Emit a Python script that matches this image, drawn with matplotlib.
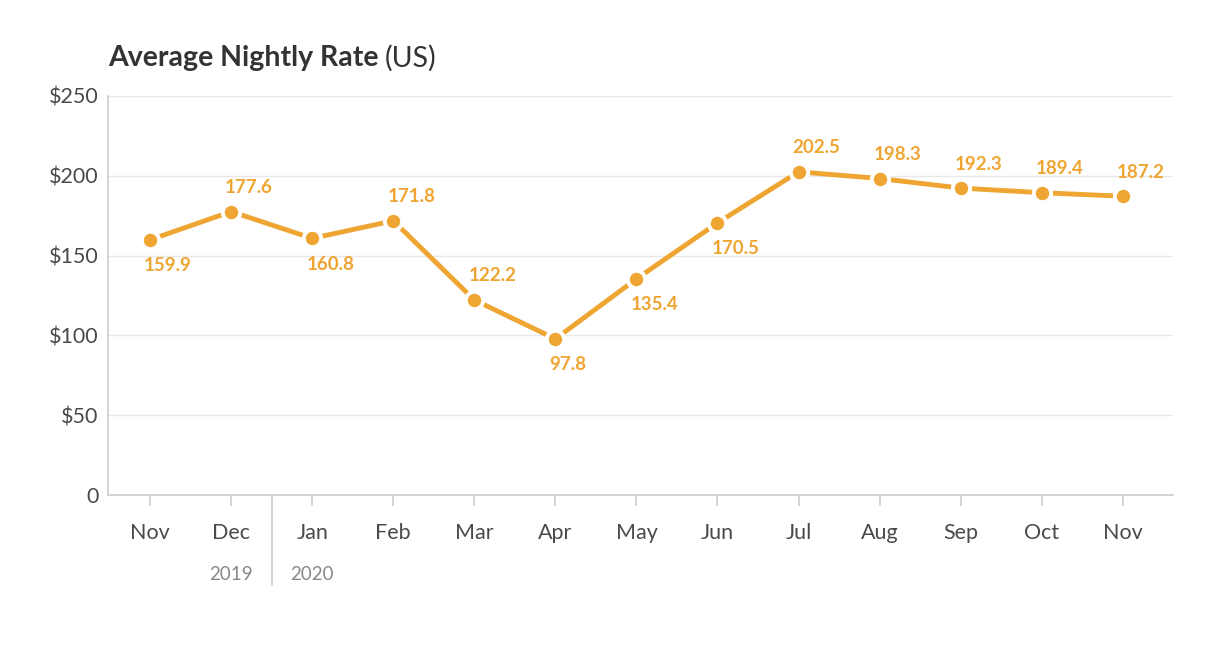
import matplotlib
matplotlib.use("Agg")
import matplotlib.pyplot as plt
from matplotlib.transforms import offset_copy, blended_transform_factory

plt.rcParams['font.family'] = ['Lato', 'DejaVu Sans']

months = ["Nov", "Dec", "Jan", "Feb", "Mar", "Apr", "May", "Jun", "Jul", "Aug", "Sep", "Oct", "Nov"]
values = [159.9, 177.6, 160.8, 171.8, 122.2, 97.8, 135.4, 170.5, 202.5, 198.3, 192.3, 189.4, 187.2]
label_pos = ["below", "above", "below", "above", "above", "below", "below", "below",
             "above", "above", "above", "above", "above"]
yticks = [0, 50, 100, 150, 200, 250]
ytick_labels = ["0", "$50", "$100", "$150", "$200", "$250"]
years = [("2019", 1), ("2020", 2)]

orange = "#EFA532"
fig = plt.figure(figsize=(12.26, 6.54), dpi=100)
W, H = 1226, 654
ax = fig.add_axes([108 / W, 1 - 495 / H, (1173 - 108) / W, (495 - 96) / H])

x = list(range(len(months)))
ax.plot(x, values, color=orange, lw=3.5, zorder=3, solid_capstyle='butt')
ax.plot(x, values, 'o', color=orange, ms=12.5, mec='white', mew=2.8, zorder=4)

for xi, v, pos in zip(x, values, label_pos):
    dy = 24 if pos == "above" else -26
    tr = offset_copy(ax.transData, fig=fig, x=-6 * 72 / 100, y=dy * 72 / 100, units='points')
    ax.text(xi, v, f"{v:.1f}", transform=tr, ha='left', va='center',
            color=orange, fontsize=13.5, fontweight='bold')

ax.set_xlim(-0.52, 12.62)
ax.set_ylim(0, 250)
ax.set_yticks(yticks)
ax.set_yticklabels(ytick_labels)
ax.set_xticks(x)
ax.set_xticklabels(months)
ax.grid(axis='y', color='#E8E8E8', lw=1)
ax.set_axisbelow(True)
for s in ['top', 'right']:
    ax.spines[s].set_visible(False)
for s in ['left', 'bottom']:
    ax.spines[s].set_color('#CCCCCC')
    ax.spines[s].set_linewidth(1.2)
ax.tick_params(axis='y', length=0, pad=7, labelsize=15.5, labelcolor='#4a4a4a')
ax.tick_params(axis='x', length=8, width=1.2, color='#CCCCCC', pad=12,
               labelsize=15.5, labelcolor='#4a4a4a')

# year separator and labels
trx = blended_transform_factory(ax.transData, fig.transFigure)
ax.plot([1.5, 1.5], [1 - 495 / H, 1 - 585 / H], transform=trx, color='#CCCCCC',
        lw=1.2, clip_on=False)
for name, xi in years:
    ax.text(xi, 1 - 574 / H, name, transform=trx, ha='center', va='center',
            fontsize=13.5, color='#888888')

t = fig.text(108 / W, 1 - 58 / H, "Average Nightly Rate", ha='left', va='center',
             fontsize=20.5, fontweight='bold', color='#333333')
fig.canvas.draw()
bb = t.get_window_extent()
fig.text(bb.x1 / W + 6 / W, 1 - 58 / H, "(US)", ha='left', va='center',
         fontsize=20.5, color='#333333')

fig.savefig("out.png", dpi=100)
